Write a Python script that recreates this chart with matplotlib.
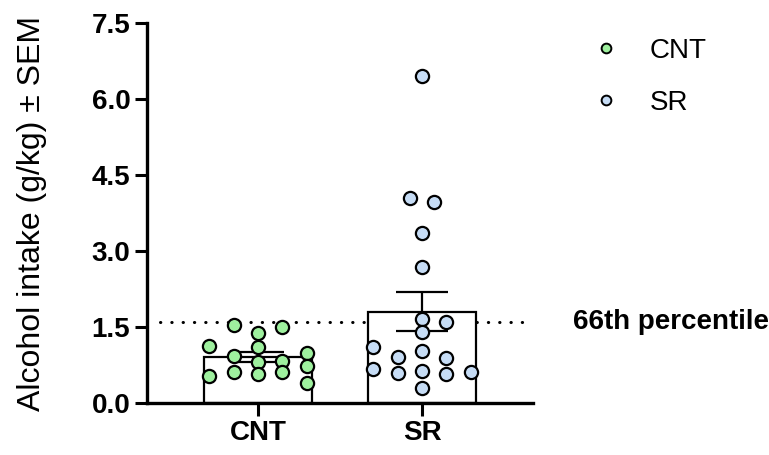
import numpy as np
import matplotlib.pyplot as plt

plt.rcParams['font.family'] = ['Liberation Sans', 'DejaVu Sans']

groups = ['CNT', 'SR']
cnt_vals = [1.13, 0.53, 1.54, 0.93, 0.62, 1.38, 1.10, 0.80, 0.57, 1.50, 0.83, 0.62, 0.99, 0.74, 0.39]
sr_vals = [6.45, 4.05, 3.97, 3.35, 2.68, 1.66, 1.59, 1.41, 1.11, 1.03, 0.90, 0.88, 0.67, 0.59, 0.63, 0.57, 0.61, 0.30]
# swarm column of each point (in steps of one marker width)
cnt_cols = [-2, -2, -1, -1, -1, 0, 0, 0, 0, 1, 1, 1, 2, 2, 2]
sr_cols = [0, -0.5, 0.5, 0, 0, 0, 1, 0, -2, 0, -1, 1, -2, -1, 0, 1, 2, 0]
percentile_66 = 1.60
yticks = [0.0, 1.5, 3.0, 4.5, 6.0, 7.5]

colors = ['#9ef09e', '#c6dcf5']
step = 0.149

fig = plt.figure(figsize=(7.69, 4.55), dpi=100)
ax = fig.add_axes([0.1912, 0.1143, 0.502, 0.835])

data = [cnt_vals, sr_vals]
cols = [cnt_cols, sr_cols]
for i, (vals, cc) in enumerate(zip(data, cols)):
    vals = np.array(vals)
    mean = vals.mean()
    sem = vals.std(ddof=1) / np.sqrt(len(vals))
    ax.bar(i, mean, width=0.66, color='white', edgecolor='black', linewidth=1.6, zorder=1)
    ax.errorbar(i, mean, yerr=sem, color='black', capsize=19, elinewidth=1.6,
                capthick=1.6, zorder=2)
    xs = i + np.array(cc) * step
    ax.plot(xs, vals, 'o', markersize=9.5, markerfacecolor=colors[i],
            markeredgecolor='black', markeredgewidth=1.6, zorder=3, linestyle='none',
            label=groups[i])

ax.plot([-0.6, 1.66], [percentile_66, percentile_66], color='black', linewidth=2.2,
        linestyle=(0, (0.1, 3.6)), dash_capstyle='round', zorder=0)
ax.text(1.92, percentile_66, '66th percentile', fontsize=20, fontweight='bold',
        va='center', ha='left')

ax.set_xlim(-0.677, 1.677)
ax.set_ylim(0, 7.5)
ax.set_yticks(yticks)
ax.set_yticklabels(['{:.1f}'.format(t) for t in yticks])
ax.set_xticks([0, 1])
ax.set_xticklabels(groups)
for lab in ax.get_xticklabels() + ax.get_yticklabels():
    lab.set_fontweight('bold')
    lab.set_fontsize(20)
ax.tick_params(axis='both', length=9, width=2.2, pad=3)
ax.set_ylabel('Alcohol intake (g/kg) ± SEM', fontsize=23, labelpad=32)

for s in ['top', 'right']:
    ax.spines[s].set_visible(False)
for s in ['left', 'bottom']:
    ax.spines[s].set_linewidth(2.4)

handles = [plt.Line2D([], [], marker='o', linestyle='none', markersize=7,
                      markerfacecolor=c, markeredgecolor='black', markeredgewidth=1.4)
           for c in colors]
fig.legend(handles, groups, loc='upper left', bbox_to_anchor=(0.756, 0.942),
           frameon=False, fontsize=20, handlelength=1.0, handletextpad=1.05,
           labelspacing=0.95, borderaxespad=0)

fig.savefig('out.png', dpi=100)
